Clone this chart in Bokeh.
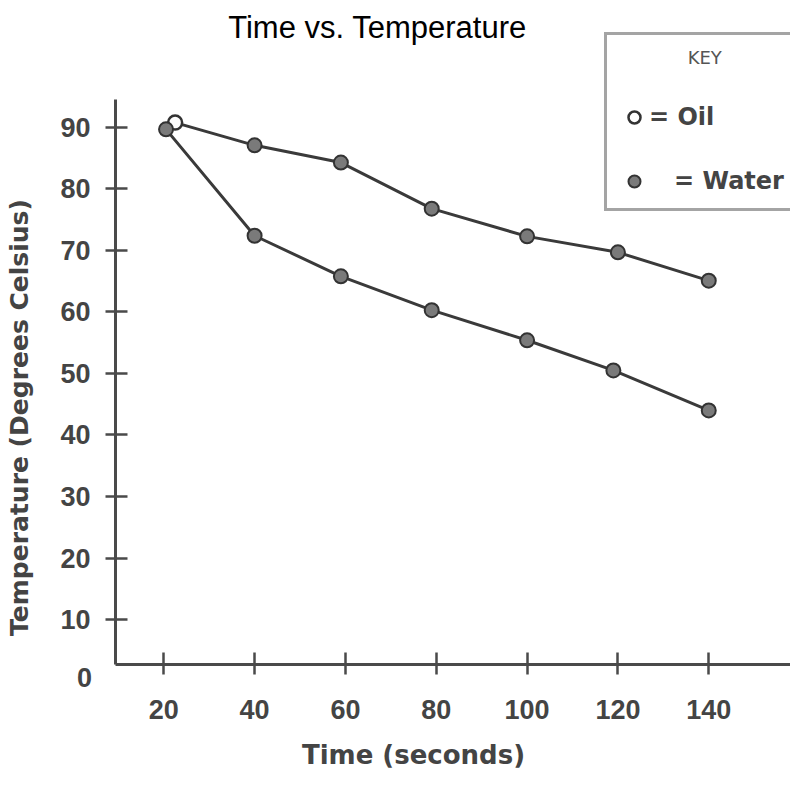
import math
from bokeh.plotting import figure
from bokeh.models import (Label, Legend, LegendItem, FixedTicker, Range1d)
from bokeh.embed import file_html
from bokeh.resources import INLINE

# ---- data ----
oil_time = [22.5, 40, 59, 79, 100, 120, 140]
oil_temp = [90.8, 87.1, 84.3, 76.8, 72.3, 69.7, 65.1]
water_time = [20.5, 40, 59, 79, 100, 119, 140]
water_temp = [89.7, 72.4, 65.8, 60.3, 55.4, 50.5, 44.0]
x_ticks = [20, 40, 60, 80, 100, 120, 140]
y_ticks = [10, 20, 30, 40, 50, 60, 70, 80, 90]

TITLE = "Time vs. Temperature"
XLABEL = "Time (seconds)"
YLABEL = "Temperature (Degrees Celsius)"
KEY_TITLE = "KEY"
OIL_LABEL = "Oil"
WATER_LABEL = "Water"

INK = "#3a3a3a"
AXIS = "#4a4a4a"
TXT = "#444444"

# axis crossing positions (data units)
X_AXIS_AT = 2.68     # temperature level where the time axis is drawn
Y_AXIS_AT = 9.37     # time where the temperature axis is drawn
X_END = 158.0
Y_TOP = 94.55

p = figure(width=790, height=769, output_backend="svg", toolbar_location=None,
           x_range=Range1d(-15.95, X_END), y_range=Range1d(-14.39, 110.65),
           min_border=0, min_border_left=0, min_border_right=0,
           min_border_top=0, min_border_bottom=0)
p.outline_line_color = None
p.grid.visible = False
p.background_fill_color = "white"
p.border_fill_color = "white"

for ax in (p.xaxis[0], p.yaxis[0]):
    ax.axis_line_color = AXIS
    ax.axis_line_width = 3
    ax.major_tick_line_color = AXIS
    ax.major_tick_line_width = 2.5
    ax.minor_tick_line_color = None
    ax.major_tick_in = 12
    ax.major_tick_out = 10
    ax.major_label_text_font = "Liberation Sans"
    ax.major_label_text_font_style = "bold"
    ax.major_label_text_font_size = "27px"
    ax.major_label_text_color = TXT

p.xaxis[0].ticker = FixedTicker(ticks=x_ticks)
p.yaxis[0].ticker = FixedTicker(ticks=y_ticks)
p.xaxis[0].fixed_location = X_AXIS_AT
p.yaxis[0].fixed_location = Y_AXIS_AT
p.xaxis[0].bounds = (Y_AXIS_AT, X_END)
p.yaxis[0].bounds = (X_AXIS_AT, Y_TOP)
p.xaxis[0].major_label_standoff = 25
p.yaxis[0].major_label_standoff = 15

# lines and markers
p.line(oil_time, oil_temp, line_color=INK, line_width=3)
p.line(water_time, water_temp, line_color=INK, line_width=3)
oil_pts = p.scatter(oil_time[1:], oil_temp[1:], size=14, fill_color="#7a7a7a",
                    line_color="#333333", line_width=2)
oil_open = p.scatter(oil_time[:1], oil_temp[:1], size=14, fill_color="white",
                     line_color="#333333", line_width=2.5)
water_pts = p.scatter(water_time, water_temp, size=14, fill_color="#7a7a7a",
                      line_color="#333333", line_width=2)

# key (legend) with its "KEY" heading as the legend title
NB = "\u00a0"
legend = Legend(items=[
    LegendItem(label="= " + OIL_LABEL, renderers=[oil_open]),
    LegendItem(label=NB * 3 + "=" + NB + WATER_LABEL, renderers=[water_pts]),
], location=(604, 558))
legend.title = NB * 12 + KEY_TITLE
legend.title_text_font = "DejaVu Sans"
legend.title_text_font_style = "normal"
legend.title_text_font_size = "18px"
legend.title_text_color = "#555555"
legend.title_standoff = 34
legend.label_text_font = "DejaVu Sans"
legend.label_text_font_style = "bold"
legend.label_text_font_size = "24px"
legend.label_text_color = TXT
legend.label_height = 30
legend.glyph_height = 30
legend.glyph_width = 30
legend.label_standoff = -4
legend.label_width = 200
legend.spacing = 34
legend.padding = 12
legend.margin = 0
legend.border_line_color = "#4a4a4a"
legend.border_line_width = 3
legend.background_fill_color = "white"
legend.background_fill_alpha = 1.0
p.add_layout(legend, "center")

def screen_label(x, y, text, **kw):
    p.add_layout(Label(x=x, y=y, x_units="screen", y_units="screen", text=text, **kw))

screen_label(377, 742, TITLE, text_align="center", text_baseline="alphabetic",
             text_font="Liberation Sans", text_font_size="31px", text_color="black")
screen_label(413, 15, XLABEL, text_align="center", text_baseline="alphabetic",
             text_font="DejaVu Sans", text_font_style="bold",
             text_font_size="26px", text_color=TXT)
screen_label(19, 352, YLABEL, angle=math.pi / 2, text_align="center",
             text_baseline="middle", text_font="DejaVu Sans",
             text_font_style="bold", text_font_size="25px", text_color=TXT)
screen_label(84, 92, "0", text_align="center", text_baseline="middle",
             text_font="Liberation Sans", text_font_style="bold",
             text_font_size="27px", text_color=TXT)

open("out.html", "w").write(file_html(p, INLINE))
